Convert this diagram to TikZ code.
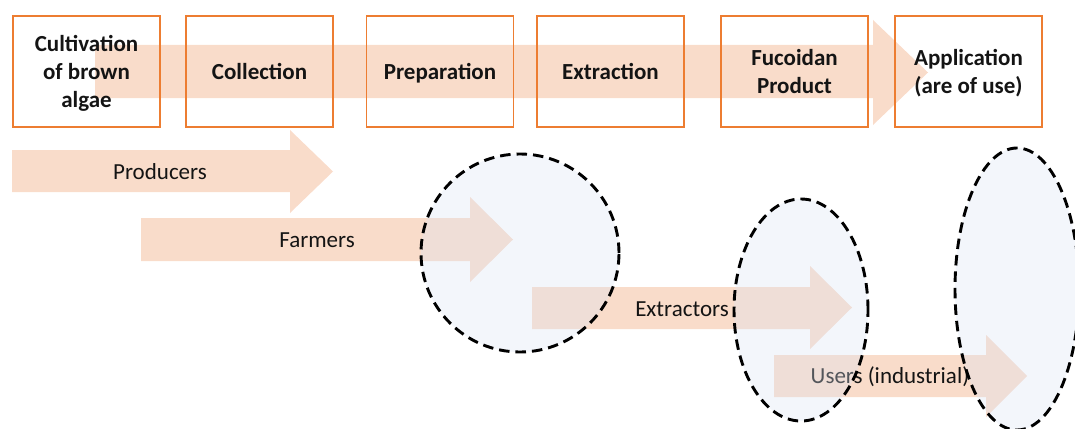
\documentclass[tikz,border=0pt]{standalone}
\usepackage{fontspec}
\setmainfont{Carlito}
\usetikzlibrary{shapes.geometric}
\definecolor{peach}{HTML}{F9DCCA}
\definecolor{boxorange}{HTML}{ED7D31}
\definecolor{haze}{HTML}{DAE3F3}
\definecolor{ink}{HTML}{141414}
\newcommand\stagestrut{\rule[-6pt]{0pt}{28pt}}
\begin{document}
\begin{tikzpicture}[x=1pt,y=-1pt,
  stagebox/.style={draw=boxorange, line width=1.4pt, minimum width=147pt, minimum height=111pt, inner sep=0pt, align=center, font=\bfseries\fontsize{23}{28}\selectfont, text=ink},
  flow/.style={fill=peach},
  flowlabel/.style={font=\fontsize{23}{27}\selectfont, text=ink, inner sep=0pt},
  zone/.style={ellipse, draw=black, line width=2.9pt, dash pattern=on 10.5pt off 6pt, fill=haze, fill opacity=0.32, inner sep=0pt}
]
\useasboundingbox (0,0) rectangle (1075,428);
% main process arrow
\fill[flow] (95,45) -- (873,45) -- (873,20) -- (928,72.5) -- (873,125) -- (873,98) -- (95,98) -- cycle;
% stage boxes
\node[stagebox] (b1) at (86.5,71.5) {Cultivation\stagestrut\\of brown\stagestrut\\algae\stagestrut};
\node[stagebox] (b2) at (259.5,71.5) {Collection\stagestrut};
\node[stagebox] (b3) at (440,71.5) {Preparation\stagestrut};
\node[stagebox] (b4) at (610.5,71.5) {Extraction\stagestrut};
\node[stagebox] (b5) at (794.5,71.5) {Fucoidan\stagestrut\\Product\stagestrut};
\node[stagebox] (b6) at (968.5,71.5) {Application\stagestrut\\(are of use)\stagestrut};
% actor arrows
\fill[flow] (12,150) -- (290,150) -- (290,130) -- (333,171.5) -- (290,213) -- (290,192) -- (12,192) -- cycle;
\node[flowlabel] (producers) at (160,172) {Producers};
\fill[flow] (141,218) -- (470,218) -- (470,197) -- (513,239.5) -- (470,282) -- (470,261) -- (141,261) -- cycle;
\node[flowlabel] (farmers) at (317,240) {Farmers};
\fill[flow] (532,287) -- (810,287) -- (810,266) -- (852,307.5) -- (810,349) -- (810,329) -- (532,329) -- cycle;
\node[flowlabel] (extractors) at (682,309) {Extractors};
\fill[flow] (774,355) -- (986,355) -- (986,335) -- (1027,376) -- (986,417) -- (986,397) -- (774,397) -- cycle;
\node[flowlabel] (users) at (890,377) {Users (industrial)};
% zones
\node[zone, minimum width=198pt, minimum height=198pt] (z1) at (520,253) {};
\node[zone, minimum width=134pt, minimum height=222pt] (z2) at (801,310) {};
\node[zone, minimum width=124pt, minimum height=282pt] (z3) at (1017,289) {};
\end{tikzpicture}
\end{document}
